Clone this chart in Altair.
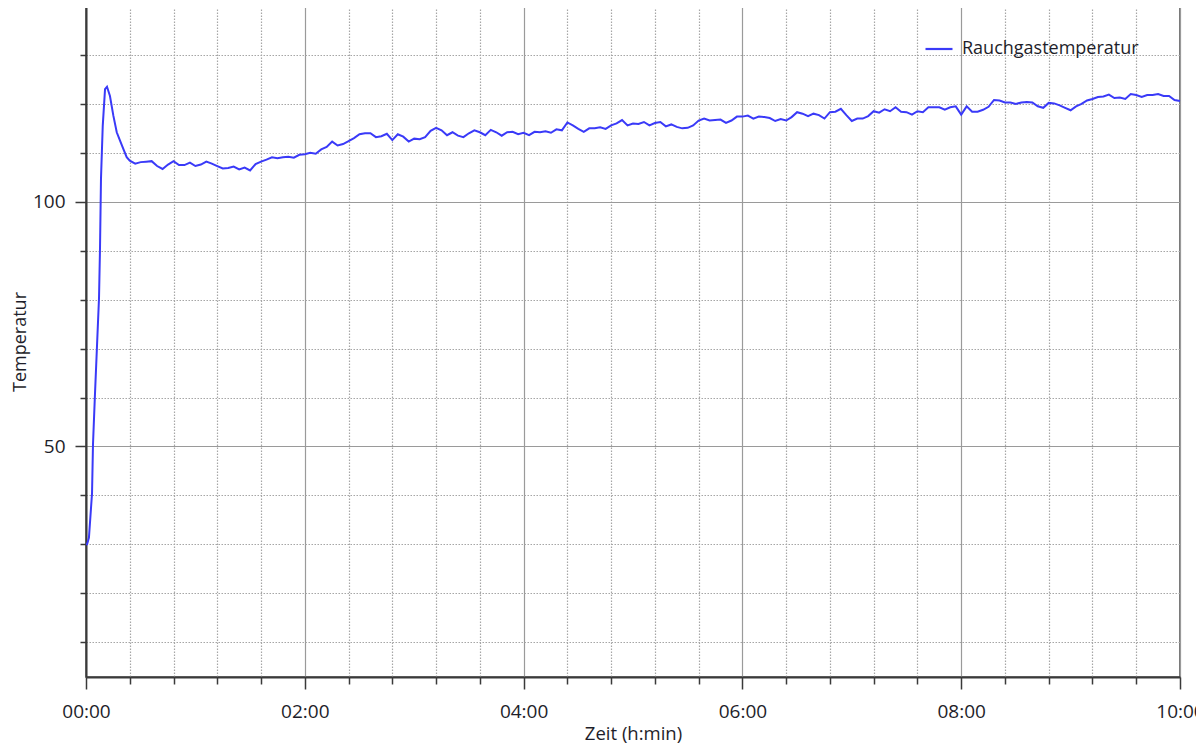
import altair as alt
import pandas as pd

# --- data (time in minutes, temperature) ---
early_t = [0.000, 0.010, 0.027, 0.055, 0.064, 0.082, 0.101, 0.119, 0.128, 0.137,
           0.153, 0.174, 0.192, 0.219, 0.250, 0.281, 0.311, 0.341, 0.372]
early_v = [30.0, 30.0, 31.4, 40.4, 50.5, 60.7, 70.8, 80.4, 90.5, 104.7,
           115.5, 123.0, 123.5, 121.6, 117.6, 114.2, 112.5, 110.8, 109.1]

seg_0_2 = [108.4, 107.8, 108.1, 108.2, 108.3, 107.3, 106.7, 107.6, 108.3, 107.5,
           107.5, 108.0, 107.3, 107.6, 108.2, 107.8, 107.3, 106.8, 106.9, 107.2,
           106.6, 107.0, 106.4, 107.7, 108.2, 108.6, 109.1, 108.9, 109.1, 109.2,
           109.0, 109.6]
seg_2_4 = [109.7, 110.0, 109.8, 110.7, 111.2, 112.3, 111.5, 111.8, 112.4, 113.0,
           113.8, 114.0, 114.0, 113.2, 113.4, 113.9, 112.6, 113.8, 113.3, 112.3,
           112.9, 112.8, 113.2, 114.5, 115.1, 114.6, 113.6, 114.2, 113.5, 113.2,
           114.0, 114.6, 114.2, 113.6, 114.7, 114.2, 113.5, 114.2, 114.3, 113.8]
seg_4_6 = [114.1, 113.6, 114.3, 114.2, 114.4, 114.1, 114.8, 114.6, 116.2, 115.6,
           114.9, 114.3, 115.0, 115.0, 115.2, 114.9, 115.6, 116.0, 116.7, 115.6,
           116.0, 115.9, 116.3, 115.6, 116.1, 116.3, 115.4, 115.8, 115.3, 115.0,
           115.1, 115.6, 116.6, 117.0, 116.6, 116.7, 116.8, 116.1, 116.6, 117.4]
seg_6_8 = [117.4, 117.6, 117.0, 117.4, 117.3, 117.1, 116.5, 116.9, 116.6, 117.3,
           118.3, 118.0, 117.5, 118.0, 117.7, 117.0, 118.3, 118.4, 119.0, 117.7,
           116.5, 117.0, 117.0, 117.5, 118.5, 118.2, 118.9, 118.5, 119.3, 118.4,
           118.3, 117.8, 118.5, 118.3, 119.3, 119.3, 119.3, 118.8, 119.3, 119.5]
seg_8_10 = [117.8, 119.5, 118.4, 118.4, 118.8, 119.4, 120.8, 120.7, 120.3, 120.3,
            120.0, 120.3, 120.4, 120.3, 119.5, 119.2, 120.2, 120.1, 119.7, 119.2,
            118.7, 119.5, 120.0, 120.7, 121.0, 121.4, 121.5, 121.9, 121.2, 121.3,
            121.0, 122.0, 121.8, 121.4, 121.8, 121.8, 122.0, 121.6, 121.6, 120.8,
            120.6]

main_v = seg_0_2 + seg_2_4 + seg_4_6 + seg_6_8 + seg_8_10
main_t = [round(0.40 + 0.05 * i, 2) for i in range(len(main_v))]  # sampling grid

series_name = "Rauchgastemperatur"
x_tick_values = [round(0.4 * i, 1) for i in range(26)]
y_tick_values = [10 * i for i in range(1, 15)]

df = pd.DataFrame({
    "t": early_t + main_t,
    "temp": early_v + main_v,
    "serie": series_name,
})

FONT = "Open Sans"
TXT = "#1e1e2a"
AX = "#3a3a3a"

x_major = "abs(datum.value/2 - round(datum.value/2)) < 0.01"
y_major = "datum.value % 50 === 0"

chart = alt.Chart(df).mark_line(strokeWidth=2, color="#3a3af8").encode(
    x=alt.X(
        "t:Q",
        scale=alt.Scale(domain=[0, 10], nice=False, zero=False),
        axis=alt.Axis(
            values=x_tick_values,
            title="Zeit (h:min)",
            labelExpr=f"{x_major} ? (datum.value < 9.9 ? '0' : '') + round(datum.value) + ':00' : ''",
            labelOverlap=False,
            labelFlush=False,
            labelFont=FONT, labelFontSize=19, labelColor=TXT, labelPadding=13,
            titleFont=FONT, titleFontSize=18.5, titleFontWeight="normal", titleColor=TXT,
            titleX=547, titleY=56, titleBaseline="middle", titleAlign="center",
            domainColor=AX, domainWidth=2,
            tickColor=AX, tickWidth=1.5,
            tickSize={"condition": {"test": x_major, "value": 12}, "value": 7},
            gridColor={"condition": {"test": x_major, "value": "#9a9a9a"}, "value": "#a6a6a6"},
            gridDash={"condition": {"test": x_major, "value": []}, "value": [1.5, 1.5]},
            gridWidth=1.2,
        ),
    ),
    y=alt.Y(
        "temp:Q",
        scale=alt.Scale(domain=[2.9, 140], nice=False, zero=False),
        axis=alt.Axis(
            values=y_tick_values,
            title="Temperatur",
            labelExpr=f"{y_major} ? datum.value : ''",
            labelOverlap=False,
            labelFont=FONT, labelFontSize=19, labelColor=TXT, labelPadding=10,
            titleFont=FONT, titleFontSize=18, titleFontWeight="normal", titleColor=TXT,
            titleX=-66, titleY=335.5, titleAngle=-90, titleBaseline="middle", titleAlign="center",
            domainColor=AX, domainWidth=2,
            tickColor=AX, tickWidth=1.5,
            tickSize={"condition": {"test": y_major, "value": 11}, "value": 6},
            gridColor={"condition": {"test": y_major, "value": "#9a9a9a"}, "value": "#a6a6a6"},
            gridDash={"condition": {"test": y_major, "value": []}, "value": [1.5, 1.5]},
            gridWidth=1.2,
        ),
    ),
    color=alt.Color(
        "serie:N",
        scale=alt.Scale(range=["#3a3af8"]),
        legend=alt.Legend(
            orient="none", legendX=838, legendY=28, title=None,
            symbolType="stroke", symbolSize=729, symbolStrokeWidth=2.2,
            symbolStrokeColor="#6e6eff",
            labelFont=FONT, labelFontSize=18, labelColor=TXT, labelOffset=8,
            labelLimit=500,
            padding=0,
        ),
    ),
).properties(
    width=1094,
    height=671,
    padding={"left": 78, "top": -2, "right": 16, "bottom": 68},
    autosize="none",
    background="white",
).configure_view(
    stroke="#4a4a4a", strokeWidth=1.5
)

chart.save("out.html", embed_options={"renderer": "svg", "actions": False})
